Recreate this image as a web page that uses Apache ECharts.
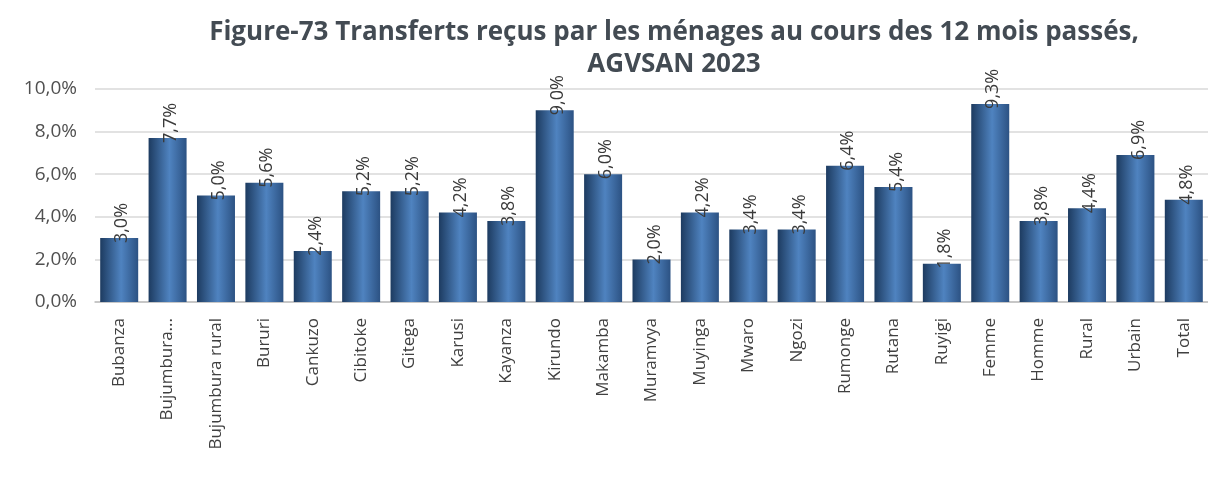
<!DOCTYPE html>
<html lang="fr">
<head>
    <meta charset="UTF-8" />
    <title>Figure-73</title>
    <script src="https://cdn.jsdelivr.net/npm/echarts@6/dist/echarts.min.js"></script>
    <style>
        * { margin: 0; }
        #chart { width: 1208px; height: 477px; background: #fff; }
    </style>
</head>
<body>
    <div id="chart"></div>
    <script>
        const categories = ["Bubanza", "Bujumbura...", "Bujumbura rural", "Bururi", "Cankuzo", "Cibitoke", "Gitega",
            "Karusi", "Kayanza", "Kirundo", "Makamba", "Muramvya", "Muyinga", "Mwaro", "Ngozi", "Rumonge",
            "Rutana", "Ruyigi", "Femme", "Homme", "Rural", "Urbain", "Total"];
        const values = [3.0, 7.7, 5.0, 5.6, 2.4, 5.2, 5.2, 4.2, 3.8, 9.0, 6.0, 2.0, 4.2, 3.4, 3.4, 6.4,
            5.4, 1.8, 9.3, 3.8, 4.4, 6.9, 4.8];

        const fmt = (v) => v.toFixed(1).replace(".", ",") + "%";

        const chart = echarts.init(document.getElementById("chart"));
        chart.setOption({
            animation: false,
            title: {
                text: "Figure-73 Transferts reçus par les ménages au cours des 12 mois passés,\nAGVSAN 2023",
                left: 669,
                top: 12,
                textAlign: "center",
                textStyle: {
                    fontFamily: "Open Sans",
                    fontSize: 26,
                    fontWeight: "bold",
                    color: "#434b53",
                    lineHeight: 32,
                },
            },
            grid: { left: 95, right: -10, top: 89, bottom: 175, containLabel: false },
            xAxis: {
                type: "category",
                data: categories,
                axisLine: { lineStyle: { color: "#bfbfbf", width: 1.5 } },
                axisTick: { show: false },
                axisLabel: {
                    rotate: 90,
                    interval: 0,
                    margin: 16,
                    fontFamily: "Open Sans",
                    fontSize: 17,
                    color: "#404040",
                },
            },
            yAxis: {
                type: "value",
                min: 0,
                max: 10,
                interval: 2,
                axisLine: { show: false },
                axisTick: { show: false },
                splitLine: { lineStyle: { color: "#d9d9d9", width: 1.5 } },
                axisLabel: {
                    formatter: (v) => fmt(v),
                    fontFamily: "Open Sans",
                    fontSize: 19,
                    color: "#505050",
                    margin: 18,
                },
            },
            series: [
                {
                    type: "bar",
                    data: values,
                    barWidth: 38,
                    itemStyle: {
                        color: new echarts.graphic.LinearGradient(0, 0, 1, 0, [
                            { offset: 0, color: "#1d3b60" },
                            { offset: 0.55, color: "#4f83c0" },
                            { offset: 1, color: "#2c5283" },
                        ]),
                    },
                    label: {
                        show: true,
                        position: "insideTop",
                        rotate: 90,
                        align: "left",
                        verticalAlign: "middle",
                        offset: [0, 3],
                        formatter: (p) => fmt(p.value),
                        fontFamily: "Open Sans",
                        fontSize: 18,
                        color: "#3a3a3a",
                    },
                },
            ],
        });
    </script>
</body>
</html>
